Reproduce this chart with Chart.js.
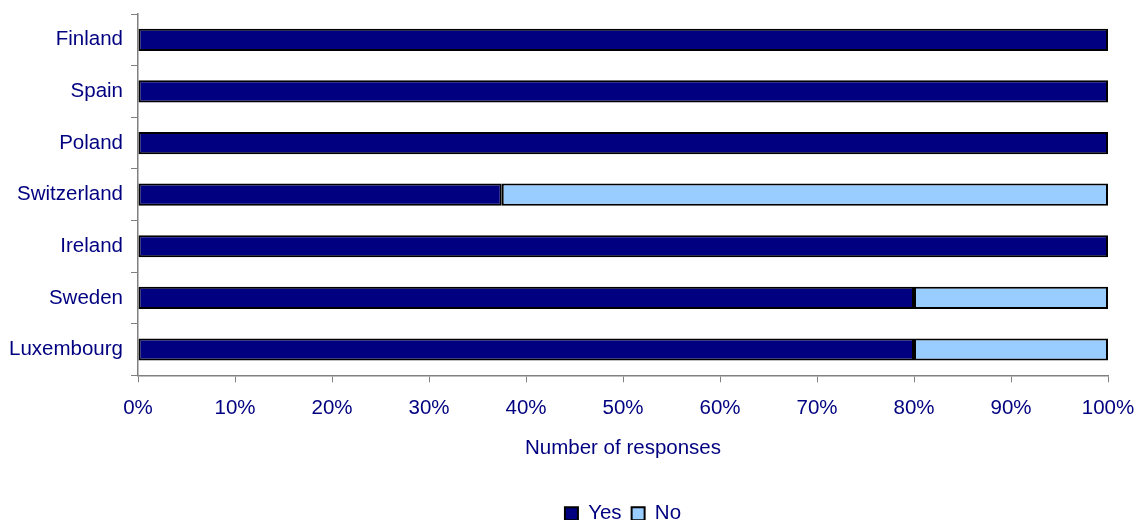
<!DOCTYPE html>
<html lang="en">
<head>
    <meta charset="UTF-8">
    <title>Number of responses</title>
    <script src="https://cdn.jsdelivr.net/npm/chart.js"></script>
    <style>
        html, body { margin: 0; padding: 0; background: #fff; }
        #wrap { width: 1138px; height: 520px; position: relative; }
    </style>
</head>
<body>
    <div id="wrap"><canvas id="chart"></canvas></div>
    <script>
        // data
        const countries = ['Finland', 'Spain', 'Poland', 'Switzerland', 'Ireland', 'Sweden', 'Luxembourg'];
        const yesValues = [100, 100, 100, 37.5, 100, 80, 80];
        const noValues = [0, 0, 0, 62.5, 0, 20, 20];
        const xTicks = [0, 10, 20, 30, 40, 50, 60, 70, 80, 90, 100];

        const navy = '#000080';
        Chart.defaults.font.family = '"Liberation Sans", Arial, sans-serif';
        Chart.defaults.font.size = 20.5;
        Chart.defaults.color = navy;

        // center the legend under the plot area, not the whole canvas
        const centerLegend = {
            id: 'centerLegend',
            afterLayout(chart) {
                const l = chart.legend;
                const ca = chart.chartArea;
                const dx = (ca.left + ca.right) / 2 - (l.left + l.right) / 2;
                l.left += dx;
                l.right += dx;
            }
        };

        const ctx = document.getElementById('chart').getContext('2d');
        new Chart(ctx, {
            type: 'bar',
            data: {
                labels: countries,
                datasets: [
                    { label: 'Yes', data: yesValues, backgroundColor: navy, borderColor: '#000', borderWidth: 2, borderSkipped: false },
                    { label: 'No', data: noValues, backgroundColor: '#99CCFF', borderColor: '#000', borderWidth: 2, borderSkipped: false }
                ]
            },
            options: {
                indexAxis: 'y',
                responsive: true,
                maintainAspectRatio: false,
                animation: false,
                categoryPercentage: 0.86,
                barPercentage: 0.5,
                layout: { padding: { top: 14, right: 30, left: 0, bottom: -14 } },
                plugins: {
                    tooltip: { enabled: false },
                    legend: {
                        position: 'bottom',
                        labels: {
                            boxWidth: 13,
                            boxHeight: 13,
                            padding: 10,
                            color: navy,
                            font: { size: 20.5 }
                        }
                    }
                },
                scales: {
                    x: {
                        stacked: true,
                        min: 0,
                        max: 100,
                        afterBuildTicks: (scale) => { scale.ticks = xTicks.map(v => ({ value: v })); },
                        afterFit: (scale) => { scale.paddingLeft = 0; scale.paddingRight = 0; },
                        ticks: {
                            callback: (v) => v + '%',
                            padding: 14,
                            maxRotation: 0
                        },
                        grid: { drawOnChartArea: false, color: '#808080', tickLength: 7, tickColor: '#808080' },
                        border: { color: '#808080', width: 1.5 },
                        title: { display: true, text: 'Number of responses', color: navy, font: { size: 20.5 }, padding: { top: 1, bottom: 33 } }
                    },
                    y: {
                        stacked: true,
                        afterFit: (scale) => { scale.width = 138; scale.paddingTop = 0; scale.paddingBottom = 0; },
                        ticks: { padding: 8 },
                        grid: { drawOnChartArea: false, color: '#808080', tickLength: 7, offset: true },
                        border: { color: '#808080', width: 1.5 }
                    }
                }
            },
            plugins: [centerLegend]
        });
    </script>
</body>
</html>
